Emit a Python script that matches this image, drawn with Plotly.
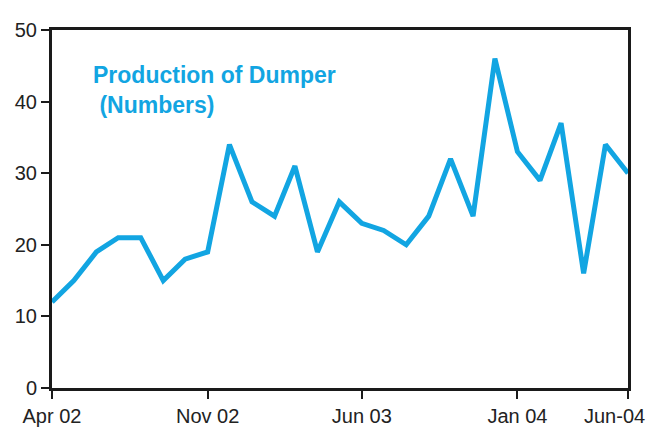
import plotly.graph_objects as go

# Monthly production, Apr 2002 - Jun 2004
months = [
    "2002-04-01", "2002-05-01", "2002-06-01", "2002-07-01", "2002-08-01", "2002-09-01",
    "2002-10-01", "2002-11-01", "2002-12-01", "2003-01-01", "2003-02-01", "2003-03-01",
    "2003-04-01", "2003-05-01", "2003-06-01", "2003-07-01", "2003-08-01", "2003-09-01",
    "2003-10-01", "2003-11-01", "2003-12-01", "2004-01-01", "2004-02-01", "2004-03-01",
    "2004-04-01", "2004-05-01", "2004-06-01",
]
production = [
    12, 15, 19, 21, 21, 15, 18, 19, 34, 26, 24, 31, 19, 26,
    23, 22, 20, 24, 32, 24, 46, 33, 29, 37, 16, 34, 30,
]
tick_dates = ["2002-04-01", "2002-11-01", "2003-06-01", "2004-01-01", "2004-06-01"]
tick_labels = ["Apr 02", "Nov 02", "Jun 03", "Jan 04", "Jun-04"]

line_color = "#12a5e2"
font_family = "Liberation Sans, Arial, sans-serif"
tick_font = {"family": font_family, "size": 20, "color": "#222222"}

fig = go.Figure()
fig.add_trace(
    go.Scatter(
        x=months,
        y=production,
        mode="lines",
        line={"color": line_color, "width": 5},
        showlegend=False,
    )
)

fig.add_annotation(
    text="<b>Production of Dumper</b><br><b> (Numbers)</b>",
    xref="paper", yref="paper",
    x=0.068, y=0.915,
    xanchor="left", yanchor="top",
    align="left",
    showarrow=False,
    font={"family": font_family, "size": 23, "color": line_color},
)

# last tick label sits right-aligned at the edge, so it's drawn as an annotation
fig.add_annotation(
    text=tick_labels[-1],
    x=tick_dates[-1], xref="x",
    y=0, yref="paper",
    xanchor="right", yanchor="top",
    xshift=19, yshift=-15,
    showarrow=False,
    font=tick_font,
)

axis_style = {
    "showgrid": False,
    "zeroline": False,
    "showline": True,
    "linecolor": "#1a1a1a",
    "linewidth": 3,
    "mirror": True,
    "ticks": "outside",
    "ticklen": 8,
    "tickwidth": 2,
    "tickcolor": "#1a1a1a",
    "automargin": False,
    "tickfont": tick_font,
}

# page has an 8px body margin, so the figure is a bit smaller than the window
fig.update_layout(
    width=647,
    height=420,
    margin={"l": 44, "r": 27, "t": 22, "b": 40},
    paper_bgcolor="white",
    plot_bgcolor="white",
    font={"family": font_family, "size": 20, "color": "#222222"},
    xaxis={
        **axis_style,
        "range": [months[0], months[-1]],
        "tickmode": "array",
        "tickvals": tick_dates,
        "ticktext": tick_labels[:-1] + [""],
    },
    yaxis={
        **axis_style,
        "range": [0, 50],
        "dtick": 10,
        "ticklabelstandoff": 0,
    },
)

fig.write_html("out.html")
